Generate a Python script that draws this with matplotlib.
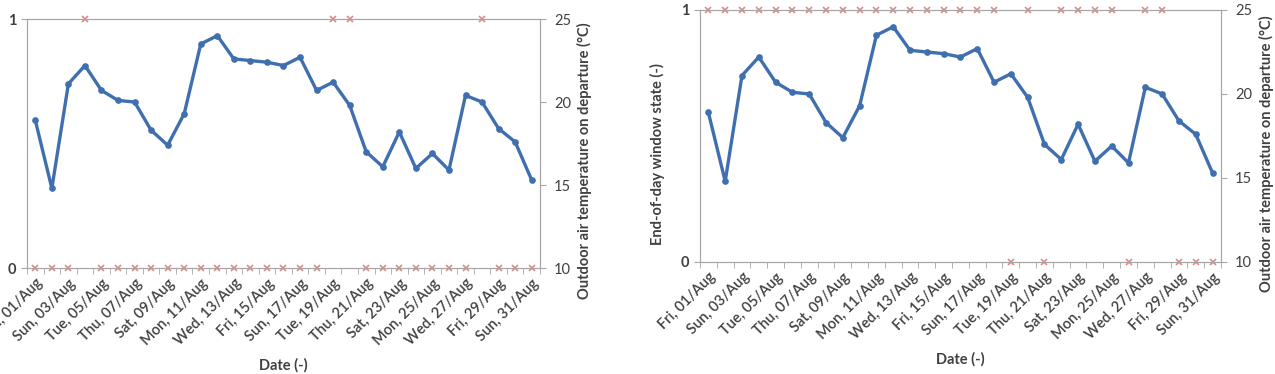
import numpy as np
import matplotlib.pyplot as plt

plt.rcParams['font.family'] = ['Lato', 'DejaVu Sans']

# Dados (agosto de 2014)
dias = ['Fri, 01/Aug', 'Sat, 02/Aug', 'Sun, 03/Aug', 'Mon, 04/Aug', 'Tue, 05/Aug', 'Wed, 06/Aug',
        'Thu, 07/Aug', 'Fri, 08/Aug', 'Sat, 09/Aug', 'Sun, 10/Aug', 'Mon, 11/Aug', 'Tue, 12/Aug',
        'Wed, 13/Aug', 'Thu, 14/Aug', 'Fri, 15/Aug', 'Sat, 16/Aug', 'Sun, 17/Aug', 'Mon, 18/Aug',
        'Tue, 19/Aug', 'Wed, 20/Aug', 'Thu, 21/Aug', 'Fri, 22/Aug', 'Sat, 23/Aug', 'Sun, 24/Aug',
        'Mon, 25/Aug', 'Tue, 26/Aug', 'Wed, 27/Aug', 'Thu, 28/Aug', 'Fri, 29/Aug', 'Sat, 30/Aug',
        'Sun, 31/Aug']

temperatura = [18.9, 14.8, 21.1, 22.2, 20.7, 20.1, 20.0, 18.3, 17.4, 19.3, 23.5, 24.0,
               22.6, 22.5, 22.4, 22.2, 22.7, 20.7, 21.2, 19.8, 17.0, 16.1, 18.2, 16.0,
               16.9, 15.9, 20.4, 20.0, 18.4, 17.6, 15.3]

janela_a = [0, 0, 0, 1, 0, 0, 0, 0, 0, 0, 0, 0, 0, 0, 0, 0, 0, 0, 1, 1, 0, 0, 0, 0,
            0, 0, 0, 1, 0, 0, 0]
janela_b = [1, 1, 1, 1, 1, 1, 1, 1, 1, 1, 1, 1, 1, 1, 1, 1, 1, 1, 0, 1, 0, 1, 1, 1,
            1, 0, 1, 1, 0, 0, 0]

cor_linha = '#3f6fae'
cor_janela = '#d98a8a'
cor_eixo = '#a6a6a6'
cor_texto = '#404040'

fig = plt.figure(figsize=(12.75, 3.74), dpi=100)


def desenhar(rect, janela, ylabel_x):
    ax = fig.add_axes(rect)
    n = len(dias)
    x = np.arange(n)
    ax.plot(x, janela, linestyle='none', marker='x', markersize=4.5,
            markeredgewidth=1.2, color=cor_janela, clip_on=False, zorder=3)
    ax.set_xlim(-0.5, n - 0.5)
    ax.set_ylim(0, 1)
    ax.set_yticks([0, 1])
    ax.set_yticklabels(['0', '1'], fontsize=10.5, fontweight='bold', color=cor_texto)
    ax.set_xticks(x[::2])
    ax.set_xticklabels(dias[::2], rotation=45, ha='right', rotation_mode='anchor',
                       fontsize=10.5, fontweight='semibold', color=cor_texto)
    ax.set_xticks(np.arange(n + 1) - 0.5, minor=True)
    ax.tick_params(axis='x', which='major', length=0, pad=6)
    ax.tick_params(axis='x', which='minor', length=4, color=cor_eixo, direction='out')
    ax.tick_params(axis='y', length=4, color=cor_eixo)
    for s in ax.spines.values():
        s.set_color(cor_eixo)
    ax.set_xlabel('Date (-)', fontsize=10.5, fontweight='bold', color=cor_texto, labelpad=7)
    ax.set_ylabel('End-of-day window state (-)', fontsize=10.5, fontweight='bold', color=cor_texto)
    ax.yaxis.set_label_coords(ylabel_x, 0.43)

    ax2 = ax.twinx()
    ax2.plot(x, temperatura, color=cor_linha, linewidth=2.4, marker='o', markersize=3.8, zorder=4)
    ax2.set_ylim(10, 25)
    ax2.set_yticks([10, 15, 20, 25])
    ax2.tick_params(axis='y', length=4, color=cor_eixo, labelsize=10.5, labelcolor=cor_texto, pad=6)
    for s in ax2.spines.values():
        s.set_color(cor_eixo)
    ax2.set_ylabel('Outdoor air temperature on departure (°C)', fontsize=10.5,
                   fontweight='bold', color=cor_texto)
    ax2.yaxis.set_label_coords(1.072, 0.43)
    return ax, ax2


desenhar([0.0212, 0.2834, 0.4023, 0.6656], janela_a, -0.058)
desenhar([0.549, 0.2995, 0.4086, 0.6738], janela_b, -0.068)

fig.savefig('out.png', dpi=100)
